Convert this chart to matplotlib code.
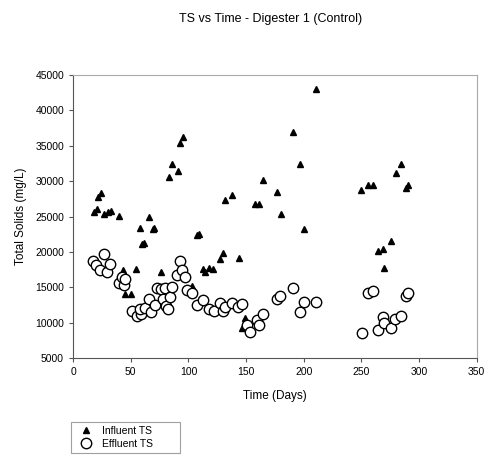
import matplotlib
matplotlib.use("Agg")
import matplotlib.pyplot as plt

plt.rcParams['font.family'] = ['Liberation Sans', 'DejaVu Sans']

# Influent total solids (day, mg/L)
influent_days = [18, 21, 21.6, 24, 27, 30, 33, 39.5, 41, 43, 45, 50.5, 55,
                 57.7, 60, 61.5, 65.5, 69, 70.5, 75.5, 76.5, 78, 83, 85.7,
                 90.6, 92.4, 95, 103.3, 107.5, 109.5, 112.7, 114, 117.5,
                 121.3, 127.6, 129.6, 131.4, 137.8, 143.5, 146.8, 149.3,
                 157.4, 161.4, 164.6, 176.4, 180.2, 190.3, 196.4, 200.4,
                 210.8, 249.8, 255.3, 259.9, 264, 268.3, 270, 275.8, 280.2,
                 284.2, 288.8, 290]
influent_ts = [25700, 26100, 27700, 28300, 25400, 25600, 25800, 25100, 16700,
               17400, 14100, 14100, 17600, 23400, 21100, 21300, 25000, 23300,
               23400, 15100, 17200, 15100, 30600, 32500, 31400, 35400, 36200,
               15200, 22400, 22600, 17600, 17200, 17800, 17600, 19000, 19900,
               27400, 28000, 19200, 9300, 10600, 26800, 26800, 30200, 28500,
               25400, 36900, 32400, 23300, 43100, 28800, 29500, 29500, 20200,
               20400, 17800, 21500, 31200, 32400, 29100, 29400]

# Effluent total solids (day, mg/L)
effluent_days = [17.3, 20.2, 23.4, 26.5, 29.5, 32.3, 39.5, 42.4, 44, 45.3,
                 51, 55.5, 59.2, 57.7, 62, 65.5, 67.9, 70.7, 72.8, 75.9, 78,
                 80, 80.8, 82.3, 83.7, 85.6, 90.1, 92.5, 94.7, 97.3, 98.8,
                 103.3, 107.5, 113, 117.7, 121.8, 127.6, 129.6, 131.6, 137.8,
                 143.3, 146.1, 150.7, 153.6, 159.4, 161.4, 164.6, 176.5,
                 179.6, 190.3, 196.4, 200.4, 210.8, 250.4, 255.3, 259.9,
                 264.6, 268.3, 270, 275.8, 279.3, 284.5, 288.8, 290]
effluent_ts = [18700, 18100, 17500, 19700, 17100, 18300, 15600, 16500, 15300,
               16200, 11600, 11000, 11300, 12000, 12100, 13300, 11500, 12500,
               14900, 14800, 13300, 14900, 12400, 11900, 13700, 15100, 16700,
               18700, 17400, 16400, 14600, 14150, 12500, 13150, 11900, 11650,
               12850, 11600, 12200, 12800, 12250, 12700, 9650, 8700, 10400,
               9700, 11300, 13400, 13800, 14850, 11500, 12900, 12900, 8500,
               14150, 14500, 8950, 10850, 9900, 9300, 10500, 11000, 13800,
               14150]

fig = plt.figure(figsize=(4.87, 4.55), dpi=100)
ax = fig.add_axes([0.150, 0.213, 0.829, 0.622])

ax.plot(influent_days, influent_ts, linestyle='none', marker='^',
        markersize=5, color='black', label='Influent TS')
ax.plot(effluent_days, effluent_ts, linestyle='none', marker='o',
        markersize=7.5, markerfacecolor='white', markeredgecolor='black',
        markeredgewidth=1.0, label='Effluent TS')

ax.set_xlim(0, 350)
ax.set_ylim(5000, 45000)
ax.set_xticks(range(0, 351, 50))
ax.set_yticks(range(5000, 45001, 5000))
ax.tick_params(labelsize=7.5, length=3, width=0.8, color='#555555')
for side in ['left', 'bottom']:
    ax.spines[side].set_color('#555555')
for side in ['top', 'right']:
    ax.spines[side].set_color('#aaaaaa')

ax.set_xlabel('Time (Days)', fontsize=8.5, labelpad=9)
ax.set_ylabel('Total Solids (mg/L)', fontsize=8.5, labelpad=6)
fig.text(0.555, 0.958, 'TS vs Time - Digester 1 (Control)', ha='center',
         va='center', fontsize=9)

handles, labels = ax.get_legend_handles_labels()
leg = fig.legend(handles, labels, loc='lower left',
                 bbox_to_anchor=(0.146, 0.004, 0.224, 0.103), mode='expand',
                 fontsize=7.5, frameon=True, fancybox=False, borderaxespad=0,
                 handletextpad=0.6, labelspacing=0.3)
leg.get_frame().set_edgecolor('#888888')
leg.get_frame().set_linewidth(0.8)

fig.savefig('out.png', dpi=100)
